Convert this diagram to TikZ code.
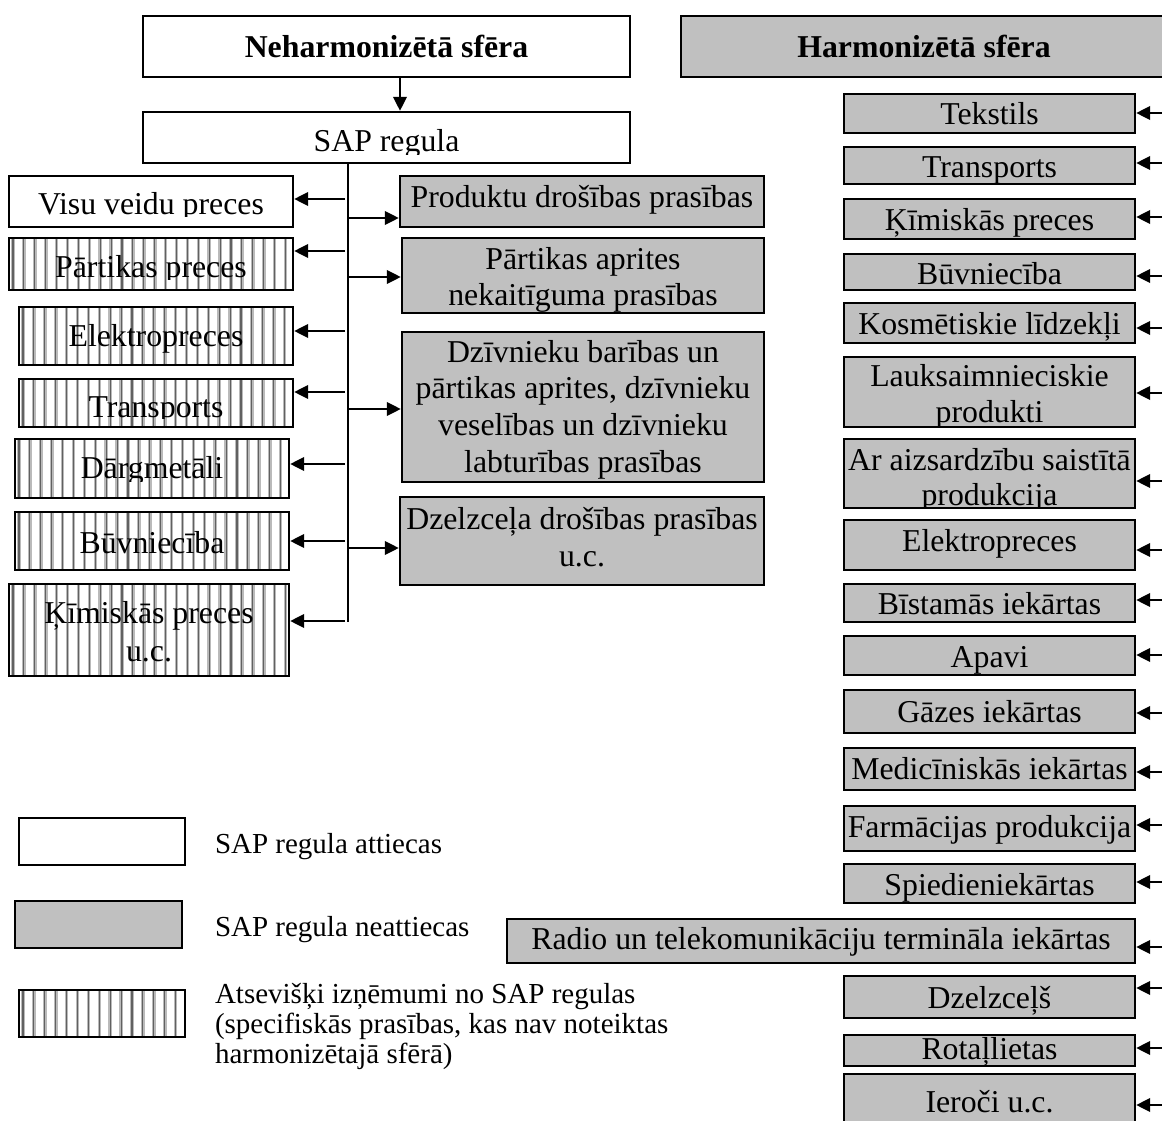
\documentclass[tikz,border=0pt]{standalone}
\usepackage{fontspec}
\setmainfont{Liberation Serif}
\usetikzlibrary{arrows.meta}
\definecolor{boxgray}{RGB}{192,192,192}
\tikzset{
  box/.style={draw=black, line width=2.1pt, inner sep=0pt, outer sep=0pt, rectangle},
  whitebox/.style={box, fill=white},
  graybox/.style={box, fill=boxgray},
  hatchbox/.style={box, fill=white},
  arr/.style={line width=2.4pt, -{Triangle[length=14pt,width=13.5pt]}, shorten >=1.2pt},
  conn/.style={line width=2.2pt},
  txt/.style={anchor=base, inner sep=0pt, outer sep=0pt},
  legtxt/.style={anchor=base west, inner sep=0pt, outer sep=0pt},
}
\newcommand\boxfont{\fontsize{31.8}{36.7}\selectfont}
\newcommand\legfont{\fontsize{29}{30}\selectfont}
\newcommand\mkbox[6]{%
  \node[#6, minimum width={#4pt-#2pt}, minimum height={#5pt-#3pt}] (#1) at ({(#2+#4)/2},{(#3+#5)/2}) {};}
\newcommand\myhatch[4]{%
  \begin{scope}
    \clip (#1+1.2,#2+1.2) rectangle (#3-1.2,#4-1.2);
    \foreach \k in {0,...,28} {
      \draw[line width=3.6pt, black!27] (#1+4+\k*10.9,#2) -- (#1+4+\k*10.9,#4);
      \draw[line width=1.1pt, black!62] (#1+4+\k*10.9,#2) -- (#1+4+\k*10.9,#4);
    }
  \end{scope}}
\newcommand\mktext[7]{%
  \begin{scope}
    \clip (#2-80,#4) rectangle (#3+80,#6);
    \node[txt] (#1) at ({(#2+#3)/2},#5) {\parbox[t]{\dimexpr#3pt-#2pt+200pt\relax}{\centering\boxfont #7}};
  \end{scope}}
\begin{document}
\begin{tikzpicture}[x=1pt,y=-1pt]
\useasboundingbox (0,0) rectangle (1162,1121);
% top boxes
\mkbox{neh}{143}{16}{630}{77}{whitebox}
\mkbox{sap}{143}{112}{630}{163}{whitebox}
\mkbox{harm}{681}{16}{1167}{77}{graybox}
% left column
\mkbox{visu}{9}{176}{293}{227}{whitebox}
\mkbox{partp}{9}{238}{293}{290}{hatchbox}
\mkbox{elekl}{19}{307}{293}{365}{hatchbox}
\mkbox{transl}{19}{379}{293}{427}{hatchbox}
\mkbox{darg}{15}{439}{289}{498}{hatchbox}
\mkbox{buvl}{15}{512}{289}{570}{hatchbox}
\mkbox{kiml}{9}{584}{289}{676}{hatchbox}
\myhatch{9}{238}{293}{290}
\myhatch{19}{307}{293}{365}
\myhatch{19}{379}{293}{427}
\myhatch{15}{439}{289}{498}
\myhatch{15}{512}{289}{570}
\myhatch{9}{584}{289}{676}
% middle column
\mkbox{prod}{400}{176}{764}{227}{graybox}
\mkbox{partapr}{402}{238}{764}{313}{graybox}
\mkbox{dziv}{402}{332}{764}{482}{graybox}
\mkbox{dzelz}{400}{497}{764}{585}{graybox}
% right column
\mkbox{tekst}{844}{94}{1135}{133}{graybox}
\mkbox{transr}{844}{147}{1135}{184}{graybox}
\mkbox{kimr}{844}{199}{1135}{239}{graybox}
\mkbox{buvr}{844}{254}{1135}{290}{graybox}
\mkbox{kosm}{844}{303}{1135}{343}{graybox}
\mkbox{lauks}{844}{357}{1135}{427}{graybox}
\mkbox{aizs}{844}{439}{1135}{508}{graybox}
\mkbox{elekr}{844}{520}{1135}{570}{graybox}
\mkbox{bist}{844}{584}{1135}{622}{graybox}
\mkbox{apavi}{844}{636}{1135}{675}{graybox}
\mkbox{gazes}{844}{690}{1135}{733}{graybox}
\mkbox{medic}{844}{748}{1135}{790}{graybox}
\mkbox{farm}{844}{806}{1135}{851}{graybox}
\mkbox{spied}{844}{864}{1135}{903}{graybox}
\mkbox{radio}{507}{919}{1135}{963}{graybox}
\mkbox{dzelzr}{844}{976}{1135}{1018}{graybox}
\mkbox{rotal}{844}{1035}{1135}{1066}{graybox}
\mkbox{iero}{844}{1074}{1135}{1128}{graybox}
% legend boxes
\mkbox{legw}{19}{818}{185}{865}{whitebox}
\mkbox{legg}{15}{901}{182}{948}{graybox}
\mkbox{legh}{19}{990}{185}{1037}{hatchbox}
\myhatch{19}{990}{185}{1037}
% texts
\mktext{neh-t}{143}{630}{16}{58}{76}{\bfseries Neharmonizētā sfēra}
\mktext{harm-t}{681}{1167}{16}{58}{76}{\bfseries Harmonizētā sfēra}
\mktext{sap-t}{143}{630}{112}{152}{155}{SAP regula}
\mktext{visu-t}{9}{293}{176}{214}{216}{Visu veidu preces}
\mktext{partp-t}{9}{293}{238}{277}{279}{Pārtikas preces}
\mktext{elekl-t}{19}{293}{307}{346}{364}{Elektropreces}
\mktext{transl-t}{19}{293}{379}{417}{418}{Transports}
\mktext{darg-t}{15}{289}{439}{478}{481}{Dārgmetāli}
\mktext{buvl-t}{15}{289}{512}{553}{569}{Būvniecība}
\mktext{kiml-t}{9}{289}{584}{623}{675}{Ķīmiskās preces\\[2pt]u.c.}
\mktext{prod-t}{400}{764}{176}{207}{226}{Produktu drošības prasības}
\mktext{partapr-t}{402}{764}{238}{269}{312}{Pārtikas aprites\\nekaitīguma prasības}
\mktext{dziv-t}{402}{764}{332}{362}{481}{Dzīvnieku barības un\\pārtikas aprites, dzīvnieku\\veselības un dzīvnieku\\labturības prasības}
\mktext{dzelz-t}{400}{764}{497}{529}{584}{Dzelzceļa drošības prasības\\[1pt]u.c.}
\mktext{tekst-t}{844}{1135}{94}{125}{132}{Tekstils}
\mktext{transr-t}{844}{1135}{147}{177}{183}{Transports}
\mktext{kimr-t}{844}{1135}{199}{230}{238}{Ķīmiskās preces}
\mktext{buvr-t}{844}{1135}{254}{284}{289}{Būvniecība}
\mktext{kosm-t}{844}{1135}{303}{334}{342}{Kosmētiskie līdzekļi}
\mktext{lauks-t}{844}{1135}{357}{386}{426}{Lauksaimnieciskie\\produkti}
\mktext{aizs-t}{844}{1135}{439}{470}{507}{Ar aizsardzību saistītā\\[-1.7pt]produkcija}
\mktext{elekr-t}{844}{1135}{520}{551}{569}{Elektropreces}
\mktext{bist-t}{844}{1135}{584}{614}{621}{Bīstamās iekārtas}
\mktext{apavi-t}{844}{1135}{636}{667}{674}{Apavi}
\mktext{gazes-t}{844}{1135}{690}{722}{732}{Gāzes iekārtas}
\mktext{medic-t}{844}{1135}{748}{779}{789}{Medicīniskās iekārtas}
\mktext{farm-t}{844}{1135}{806}{837}{850}{Farmācijas produkcija}
\mktext{spied-t}{844}{1135}{864}{895}{902}{Spiedieniekārtas}
\mktext{radio-t}{507}{1135}{919}{949}{962}{Radio un telekomunikāciju termināla iekārtas}
\mktext{dzelzr-t}{844}{1135}{976}{1008}{1017}{Dzelzceļš}
\mktext{rotal-t}{844}{1135}{1035}{1059}{1065}{Rotaļlietas}
\mktext{iero-t}{844}{1135}{1074}{1112}{1127}{Ieroči u.c.}
% legend texts
\node[legtxt] (leg1) at (215,853) {\legfont SAP regula attiecas};
\node[legtxt] (leg2) at (215,936) {\legfont SAP regula neattiecas};
\node[legtxt] (leg3) at (215,1003) {\parbox[t]{460pt}{\raggedright\legfont Atsevišķi izņēmumi no SAP regulas\\(specifiskās prasības, kas nav noteiktas\\harmonizētajā sfērā)}};
% connectors
\coordinate (ax) at (400,0);
\draw[arr] (neh.south -| ax) -- (sap.north -| ax);
\coordinate (vx) at (348,0);
\coordinate (vbot) at (348,622);
\draw[conn] (sap.south -| vx) -- (vbot);
\foreach \n/\y in {visu/199, partp/251, elekl/331, transl/392, darg/464, buvl/541, kiml/621} {
  \coordinate (l-\n) at (345,\y);
  \draw[arr] (l-\n) -- (\n.east |- l-\n);
}
\foreach \n/\y in {prod/218, partapr/277, dziv/409, dzelz/548} {
  \coordinate (m-\n) at (348,\y);
  \draw[arr] (m-\n) -- (\n.west |- m-\n);
}
\foreach \n/\y in {tekst/113, transr/163, kimr/217, buvr/276, kosm/328, lauks/393, aizs/481, elekr/550, bist/600, apavi/655, gazes/713, medic/772, farm/825, spied/882, radio/947, dzelzr/988, rotal/1048, iero/1105} {
  \coordinate (e-\n) at (1166,\y);
  \draw[arr] (e-\n) -- (\n.east |- e-\n);
}
\end{tikzpicture}
\end{document}
